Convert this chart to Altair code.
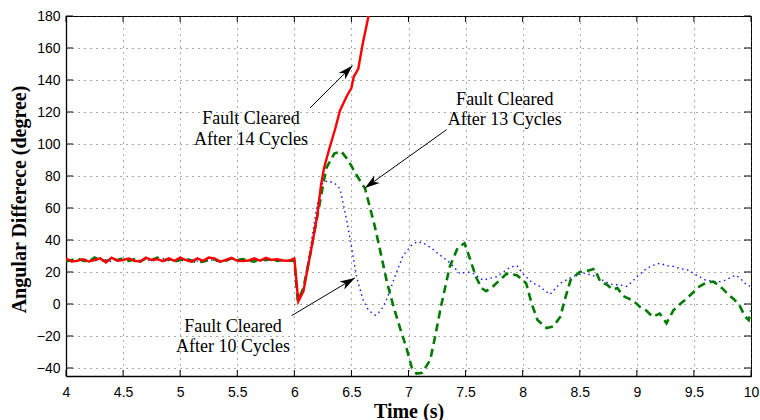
import math
import altair as alt
import pandas as pd

# ---- pre-fault operating point (4.00 s .. 5.95 s, every 0.05 s) ----
pre_time = [round(4.0 + 0.05 * i, 2) for i in range(40)]

red_pre = [28.5, 26.5, 27.0, 28.0, 26.5, 27.5, 28.5, 26.0, 29.0, 27.0,
           27.5, 28.5, 27.0, 26.5, 29.0, 27.5, 28.0, 26.8, 28.5, 27.0,
           29.0, 27.5, 26.5, 28.5, 27.0, 29.0, 28.5, 26.5, 27.5, 28.8,
           27.0, 26.8, 27.2, 28.5, 27.0, 28.8, 27.5, 28.0, 27.2, 27.0]
green_pre = [26.5, 27.5, 28.5, 27.0, 26.5, 29.0, 27.5, 26.8, 28.0, 27.5,
             28.5, 27.0, 28.0, 26.5, 28.5, 27.5, 29.0, 27.0, 28.0, 26.5,
             27.5, 28.5, 27.0, 26.0, 26.5, 27.5, 28.0, 26.5, 27.0, 28.5,
             27.5, 28.0, 27.0, 26.5, 28.5, 27.5, 28.0, 27.0, 27.5, 27.0]
blue_pre = [27.5, 27.0, 26.5, 28.0, 27.5, 26.8, 28.0, 27.5, 26.5, 27.8,
            28.5, 27.0, 26.5, 27.5, 28.0, 26.8, 27.5, 28.5, 27.0, 27.5,
            26.5, 28.0, 27.5, 26.8, 27.2, 28.0, 27.0, 26.5, 27.5, 28.5,
            27.0, 27.5, 26.8, 28.0, 27.5, 27.0, 28.0, 27.5, 26.8, 27.5]

# ---- post-fault swings ----
red_t = [6.00, 6.035, 6.08, 6.15, 6.20, 6.235, 6.26, 6.31, 6.36, 6.40,
         6.46, 6.50, 6.52, 6.56, 6.60, 6.65, 6.70]
red_v = [28.5, 1.6, 8, 35, 55, 75, 85, 98, 110, 121,
         130, 135, 142, 147, 163, 180, 200]

green_t = [6.00, 6.03, 6.08, 6.15, 6.22, 6.28, 6.35, 6.41, 6.47, 6.55,
           6.62, 6.70, 6.75, 6.81, 6.87, 6.93, 6.98, 7.03, 7.07, 7.12,
           7.19, 7.24, 7.28, 7.36, 7.43, 7.49, 7.54, 7.59, 7.64, 7.68,
           7.74, 7.80, 7.86, 7.95, 8.03, 8.08, 8.13, 8.21, 8.27, 8.33,
           8.37, 8.42, 8.50, 8.56, 8.63, 8.68, 8.74, 8.79, 8.83, 8.88,
           8.97, 9.03, 9.08, 9.14, 9.20, 9.26, 9.32, 9.38, 9.43, 9.49,
           9.55, 9.60, 9.67, 9.71, 9.76, 9.80, 9.85, 9.90, 9.95, 9.98,
           10.0]
green_v = [27, 2, 10, 35, 62, 85, 94, 95.5, 90, 80,
           72, 50, 34, 14, -2, -16, -27, -40, -43.5, -43,
           -35, -18, -3, 23, 35, 38, 28, 17, 10, 8,
           11, 15, 19, 18, 13, 0, -10, -15, -14, -8,
           3, 15, 20, 20.5, 22, 14, 12, 9, 10, 5,
           2, -2, -4, -8, -6, -12, -4, 0, 3, 7,
           11, 13, 14, 12, 9, 6, 3, -1, -8, -10,
           -4]

blue_t = [6.00, 6.03, 6.08, 6.14, 6.20, 6.25, 6.30, 6.36, 6.40, 6.46,
          6.50, 6.545, 6.60, 6.65, 6.71, 6.76, 6.81, 6.87, 6.95, 7.03,
          7.08, 7.13, 7.20, 7.25, 7.36, 7.45, 7.52, 7.57, 7.65, 7.71,
          7.77, 7.83, 7.89, 7.95, 7.99, 8.03, 8.09, 8.15, 8.20, 8.24,
          8.29, 8.33, 8.41, 8.47, 8.53, 8.60, 8.65, 8.72, 8.79, 8.85,
          8.91, 8.96, 9.00, 9.05, 9.09, 9.14, 9.20, 9.26, 9.32, 9.39,
          9.46, 9.50, 9.55, 9.60, 9.67, 9.73, 9.78, 9.83, 9.87, 9.92,
          9.96, 10.0]
blue_v = [27, 2, 10, 35, 62, 76, 77, 75, 72, 52,
          36, 17, 3, -4, -7, -4, 3, 15, 30, 37,
          39, 38, 35, 32, 26, 19, 20, 19, 15, 16,
          17, 20, 23, 24, 20, 17, 13, 11, 8, 6,
          10, 13, 16, 18, 19.5, 18, 17, 14, 12, 12,
          11, 14, 17, 20, 22.5, 24, 25.5, 24, 23.5, 22,
          21, 19, 17, 15, 14, 14, 15, 17, 18, 15,
          12, 11]

x_ticks = [4, 4.5, 5, 5.5, 6, 6.5, 7, 7.5, 8, 8.5, 9, 9.5, 10]
y_ticks = [-40, -20, 0, 20, 40, 60, 80, 100, 120, 140, 160, 180]
X_DOM = [4, 10]
Y_DOM = [-45, 180]

# annotation text (two lines each) and arrows: tail -> tip
ann_line1 = ["Fault Cleared", "Fault Cleared", "Fault Cleared"]
ann_line2 = ["After 14 Cycles", "After 13 Cycles", "After 10 Cycles"]
ann_x = [5.62, 7.844, 5.462]
ann_y1 = [115.8, 127.7, -14.4]
ann_y2 = [102.7, 114.8, -26.9]
arr_x0 = [6.137, 7.334, 5.976]
arr_y0 = [122.5, 109.0, -7.3]
arr_x1 = [6.51, 6.618, 6.53]
arr_y1 = [149.0, 72.5, 16.3]

W, H = 685, 360


def series(name, t_pre, v_pre, t_post, v_post):
    t = t_pre + t_post
    v = v_pre + v_post
    return pd.DataFrame({"t": t, "v": v, "k": list(range(len(t))), "s": name})


df_red = series("14", pre_time, red_pre, red_t, red_v)
df_green = series("13", pre_time, green_pre, green_t, green_v)
df_blue = series("10", pre_time, blue_pre, blue_t, blue_v)

xs = alt.Scale(domain=X_DOM, nice=False, zero=False)
ys = alt.Scale(domain=Y_DOM, nice=False, zero=False)

axis_common = dict(
    ticks=False, labelOverlap=False, labelFlush=False,
    labelFont="Liberation Sans", labelFontSize=14, labelColor="black",
    titleFont="Liberation Serif", titleFontSize=20, titleFontWeight="bold",
    titleColor="black", titleBaseline="alphabetic",
    domainColor="black", domainWidth=1.3,
    grid=True, gridColor="#444", gridDash=[1, 5], gridWidth=1, gridOpacity=0.9,
)
x_axis = alt.Axis(values=x_ticks, format="~g", title="Time (s)",
                  titleY=41, labelPadding=9, **axis_common)
y_axis = alt.Axis(values=y_ticks, format="d", title="Angular Differece (degree)",
                  titleX=-41, titleY=183, titleAlign="center", titleAngle=270,
                  labelPadding=6, **axis_common)


# every layer shares the same scale and axis definitions so they merge cleanly
def X(field):
    return alt.X(field, scale=xs, axis=x_axis)


def Y(field):
    return alt.Y(field, scale=ys, axis=y_axis)


def line_layer(df, color, width, dash=None):
    kw = dict(color=color, strokeWidth=width, clip=True)
    if dash:
        kw["strokeDash"] = dash
    return alt.Chart(df).mark_line(**kw).encode(
        x=X("t:Q"), y=Y("v:Q"), order="k:Q",
    )


blue = line_layer(df_blue, "#1010ff", 1.4, [1.5, 3.5])
green = line_layer(df_green, "#007a00", 2.6, [8, 5])
red = line_layer(df_red, "#ff0000", 2.4)

# inward tick marks on all four sides
df_xt = pd.DataFrame({"t": x_ticks})
df_yt = pd.DataFrame({"v": y_ticks})
tick_style = dict(color="black", strokeWidth=1)
ticks_bottom = alt.Chart(df_xt).mark_rule(**tick_style).encode(
    x=X("t:Q"), y=alt.value(H), y2=alt.value(H - 6))
ticks_top = alt.Chart(df_xt).mark_rule(**tick_style).encode(
    x=X("t:Q"), y=alt.value(0), y2=alt.value(6))
ticks_left = alt.Chart(df_yt).mark_rule(**tick_style).encode(
    y=Y("v:Q"), x=alt.value(0), x2=alt.value(7))
ticks_right = alt.Chart(df_yt).mark_rule(**tick_style).encode(
    y=Y("v:Q"), x=alt.value(W), x2=alt.value(W - 7))

# annotations
px_x = W / (X_DOM[1] - X_DOM[0])
px_y = H / (Y_DOM[1] - Y_DOM[0])
angles = []
for x0, y0, x1, y1 in zip(arr_x0, arr_y0, arr_x1, arr_y1):
    dx = (x1 - x0) * px_x
    dy = (y1 - y0) * px_y
    angles.append(math.degrees(math.atan2(dx, dy)) % 360)

df_ann = pd.DataFrame({"x": ann_x, "y1": ann_y1, "y2": ann_y2,
                       "l1": ann_line1, "l2": ann_line2})
df_arr = pd.DataFrame({"x0": arr_x0, "y0": arr_y0, "x1": arr_x1,
                       "y1": arr_y1, "a": angles})

txt_style = dict(font="Liberation Serif", fontSize=18, color="black",
                 align="center", baseline="middle")
text1 = alt.Chart(df_ann).mark_text(**txt_style).encode(
    x=X("x:Q"), y=Y("y1:Q"), text="l1:N")
text2 = alt.Chart(df_ann).mark_text(**txt_style).encode(
    x=X("x:Q"), y=Y("y2:Q"), text="l2:N")

shafts = alt.Chart(df_arr).mark_rule(color="black", strokeWidth=1).encode(
    x=X("x0:Q"), y=Y("y0:Q"), x2="x1:Q", y2="y1:Q")

# arrow head with its tip at the symbol origin, pointing up before rotation
head_path = "M0,0L-0.62,2L0,1.45L0.62,2Z"
heads = alt.Chart(df_arr).mark_point(
    shape=head_path, filled=True, color="black", opacity=1, size=225,
    strokeWidth=0).encode(
    x=X("x1:Q"), y=Y("y1:Q"),
    angle=alt.Angle("a:Q", scale=None))

chart = alt.layer(
    blue, green, red,
    ticks_bottom, ticks_top, ticks_left, ticks_right,
    shafts, heads, text1, text2,
).properties(
    width=W, height=H,
    background="white",
    autosize=alt.AutoSizeParams(type="none"),
    padding={"left": 66, "top": 16, "right": 9, "bottom": 44},
).configure_view(
    stroke="black", strokeWidth=1
)

chart.save("out.html", embed_options={"renderer": "svg", "actions": False})
